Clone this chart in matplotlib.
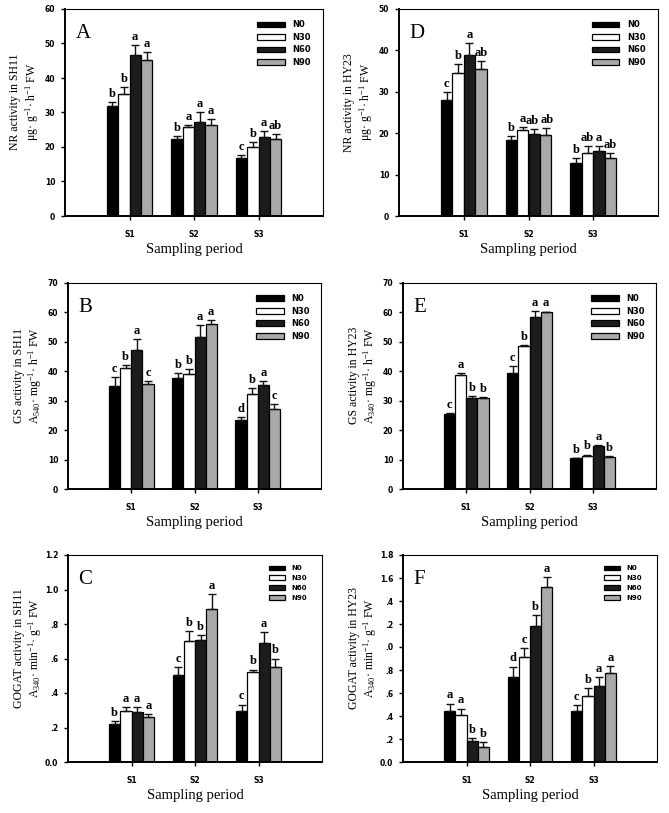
import matplotlib
matplotlib.use("Agg")
import matplotlib.pyplot as plt
import numpy as np

plt.rcParams['mathtext.fontset'] = 'custom'
plt.rcParams['mathtext.rm'] = 'Liberation Serif'
plt.rcParams['mathtext.it'] = 'Liberation Serif:italic'
plt.rcParams['mathtext.bf'] = 'Liberation Serif:bold'

periods = ["S1", "S2", "S3"]
treatments = ["N0", "N30", "N60", "N90"]

# ---- Panel A: NR activity SH11
A_mean = {"N0": [31.9, 22.4, 16.8], "N30": [35.5, 25.7, 20.0],
          "N60": [46.8, 27.3, 23.0], "N90": [45.2, 26.5, 22.4]}
A_err = {"N0": [1.1, 0.7, 1.0], "N30": [1.8, 0.7, 1.4],
         "N60": [2.8, 2.7, 1.6], "N90": [2.3, 1.7, 1.4]}
A_sig = [["b", "b", "a", "a"], ["b", "a", "a", "a"], ["c", "b", "a", "ab"]]

# ---- Panel D: NR activity HY23
D_mean = {"N0": [28.1, 18.3, 12.7], "N30": [34.6, 20.8, 15.1],
          "N60": [38.9, 19.8, 15.8], "N90": [35.5, 19.6, 14.0]}
D_err = {"N0": [1.8, 1.0, 1.3], "N30": [2.1, 0.6, 1.9],
         "N60": [2.8, 1.1, 1.0], "N90": [1.9, 1.6, 1.1]}
D_sig = [["c", "b", "a", "ab"], ["b", "a", "ab", "ab"], ["b", "ab", "a", "ab"]]

# ---- Panel B: GS activity SH11
B_mean = {"N0": [34.9, 37.8, 23.6], "N30": [41.2, 39.2, 32.2],
          "N60": [47.1, 51.8, 35.3], "N90": [35.8, 55.9, 27.3]}
B_err = {"N0": [3.2, 1.7, 0.7], "N30": [1.0, 1.5, 2.2],
         "N60": [4.0, 4.0, 1.3], "N90": [1.0, 1.6, 1.6]}
B_sig = [["c", "b", "a", "c"], ["b", "b", "a", "a"], ["d", "b", "a", "c"]]

# ---- Panel E: GS activity HY23
E_mean = {"N0": [25.6, 39.5, 10.4], "N30": [38.8, 48.7, 11.2],
          "N60": [30.8, 58.3, 14.5], "N90": [30.8, 60.2, 10.9]}
E_err = {"N0": [0.3, 2.2, 0.2], "N30": [0.5, 0.3, 0.5],
         "N60": [0.7, 2.2, 0.3], "N90": [0.5, 0.1, 0.4]}
E_sig = [["c", "a", "b", "b"], ["c", "b", "a", "a"], ["b", "b", "a", "b"]]

# ---- Panel C: GOGAT activity SH11
C_mean = {"N0": [0.223, 0.507, 0.298], "N30": [0.296, 0.703, 0.519],
          "N60": [0.288, 0.710, 0.687], "N90": [0.261, 0.888, 0.552]}
C_err = {"N0": [0.013, 0.043, 0.035], "N30": [0.023, 0.058, 0.017],
         "N60": [0.031, 0.026, 0.068], "N90": [0.016, 0.084, 0.048]}
C_sig = [["b", "a", "a", "a"], ["c", "b", "b", "a"], ["c", "b", "a", "b"]]

# ---- Panel F: GOGAT activity HY23
F_mean = {"N0": [0.444, 0.737, 0.444], "N30": [0.409, 0.915, 0.578],
          "N60": [0.186, 1.182, 0.659], "N90": [0.131, 1.524, 0.775]}
F_err = {"N0": [0.064, 0.093, 0.055], "N30": [0.056, 0.072, 0.064],
         "N60": [0.023, 0.093, 0.078], "N90": [0.046, 0.087, 0.061]}
F_sig = [["a", "a", "b", "b"], ["d", "c", "b", "a"], ["c", "b", "a", "a"]]

# y-axis ticks / labels
NR_A_ticks = [0, 10, 20, 30, 40, 50, 60]
NR_D_ticks = [0, 10, 20, 30, 40, 50]
GS_ticks = [0, 10, 20, 30, 40, 50, 60, 70]
C_ticks = [0, 0.2, 0.4, 0.6, 0.8, 1.0, 1.2]
C_ticklabels = ["0.0", ".2", ".4", ".6", ".8", "1.0", "1.2"]
F_ticks = [0, 0.2, 0.4, 0.6, 0.8, 1.0, 1.2, 1.4, 1.6, 1.8]
F_ticklabels = ["0.0", ".2", ".4", ".6", ".8", ".0", ".2", ".4", "1.6", "1.8"]

colors = {"N0": "#000000", "N30": "#ffffff", "N60": "#1c1c1c", "N90": "#a9a9a9"}

W, H = 669, 813
fig = plt.figure(figsize=(W / 100, H / 100), dpi=100)


def ax_at(l, t, r, b):
    return fig.add_axes([l / W, 1 - b / H, (r - l) / W, (b - t) / H])


SERIF = ['Liberation Serif', 'DejaVu Serif']
SANS = ['DejaVu Sans']


def panel(ax, means, errs, sigs, ymax, ticks, ticklabels, letter,
          line1, line2, small_legend=False):
    x = np.arange(1, len(periods) + 1)
    w = 0.176
    offs = (np.arange(4) - 1.5) * w
    handles = []
    for i, t in enumerate(treatments):
        bars = ax.bar(x + offs[i], means[t], width=w, color=colors[t],
                      edgecolor="black", linewidth=0.9, label=t, zorder=2)
        ax.errorbar(x + offs[i], means[t],
                    yerr=[np.zeros(len(periods)), errs[t]],
                    fmt="none", ecolor="#111111", elinewidth=1.0,
                    capsize=2.8, capthick=1.0, zorder=3)
        handles.append(bars)
    for j in range(len(periods)):
        row = sigs[j]
        for i, t in enumerate(treatments):
            top = means[t][j] + errs[t][j]
            dx = 0.0
            if len(row[i]) > 1:
                if i + 1 < len(row) and len(row[i + 1]) > 1:
                    dx -= 1.2
                if i > 0 and len(row[i - 1]) > 1:
                    dx += 1.2
            ax.annotate(row[i], (x[j] + offs[i], top), xytext=(dx, 1.5),
                        textcoords="offset points", ha="center", va="bottom",
                        fontsize=9, fontweight="bold", family=SERIF)
    ax.set_xlim(0, 4)
    ax.set_ylim(0, ymax)
    ax.set_xticks(x)
    ax.set_xticklabels(periods, fontsize=5.5, fontweight="bold", family=SANS)
    ax.set_yticks(ticks)
    ax.set_yticklabels(ticklabels, fontsize=5.5, fontweight="bold", family=SANS)
    ax.tick_params(axis="x", direction="out", length=3, width=1, pad=7)
    ax.tick_params(axis="y", direction="out", length=3, width=1, pad=4)
    for s in ("left", "bottom"):
        ax.spines[s].set_linewidth(1.4)
    for s in ("top", "right"):
        ax.spines[s].set_linewidth(0.8)
    ax.set_xlabel("Sampling period", fontsize=10.5, family=SERIF, labelpad=3)
    ax.set_ylabel(line1, fontsize=8.5, family=SERIF)
    ax.yaxis.set_label_coords(-0.17, 0.55)
    ax.text(-0.128, 0.55, line2, transform=ax.transAxes, rotation=90,
            ha="center", va="center", fontsize=8.5, family=SERIF)
    ax.text(0.04, 0.88, letter, transform=ax.transAxes, fontsize=15,
            family=SERIF, ha="left", va="center")
    if small_legend:
        ax.legend(handles=handles, loc="upper left", bbox_to_anchor=(0.79, 0.95),
                  frameon=False, prop={"family": SANS, "weight": "bold", "size": 5},
                  handlelength=2.4, handleheight=0.65, labelspacing=0.55,
                  handletextpad=0.9, borderpad=0, borderaxespad=0)
    else:
        ax.legend(handles=handles, loc="upper left", bbox_to_anchor=(0.745, 0.945),
                  frameon=False, prop={"family": SANS, "weight": "bold", "size": 6},
                  handlelength=3.3, handleheight=0.7, labelspacing=0.42,
                  handletextpad=0.9, borderpad=0, borderaxespad=0)


axA = ax_at(65, 9, 323, 216)
panel(axA, A_mean, A_err, A_sig, 60, NR_A_ticks, [str(v) for v in NR_A_ticks], "A",
      "NR activity in SH11", r"μg· g$^{-1}$· h$^{-1}$ FW")
axD = ax_at(399, 9, 658, 216)
panel(axD, D_mean, D_err, D_sig, 50, NR_D_ticks, [str(v) for v in NR_D_ticks], "D",
      "NR activity in HY23", r"μg· g$^{-1}$· h$^{-1}$ FW")
axB = ax_at(68, 283, 321, 489)
panel(axB, B_mean, B_err, B_sig, 70, GS_ticks, [str(v) for v in GS_ticks], "B",
      "GS activity in SH11", r"A$_{540}$· mg$^{-1}$· h$^{-1}$ FW")
axE = ax_at(403, 283, 656, 489)
panel(axE, E_mean, E_err, E_sig, 70, GS_ticks, [str(v) for v in GS_ticks], "E",
      "GS activity in HY23", r"A$_{340}$· mg$^{-1}$· h$^{-1}$ FW")
axC = ax_at(68, 555, 322, 762)
panel(axC, C_mean, C_err, C_sig, 1.2, C_ticks, C_ticklabels, "C",
      "GOGAT activity in SH11", r"A$_{340}$· min$^{-1}$· g$^{-1}$ FW",
      small_legend=True)
axF = ax_at(403, 555, 657, 762)
panel(axF, F_mean, F_err, F_sig, 1.8, F_ticks, F_ticklabels, "F",
      "GOGAT activity in HY23", r"A$_{340}$· min$^{-1}$· g$^{-1}$ FW",
      small_legend=True)

fig.savefig("out.png", dpi=100)
